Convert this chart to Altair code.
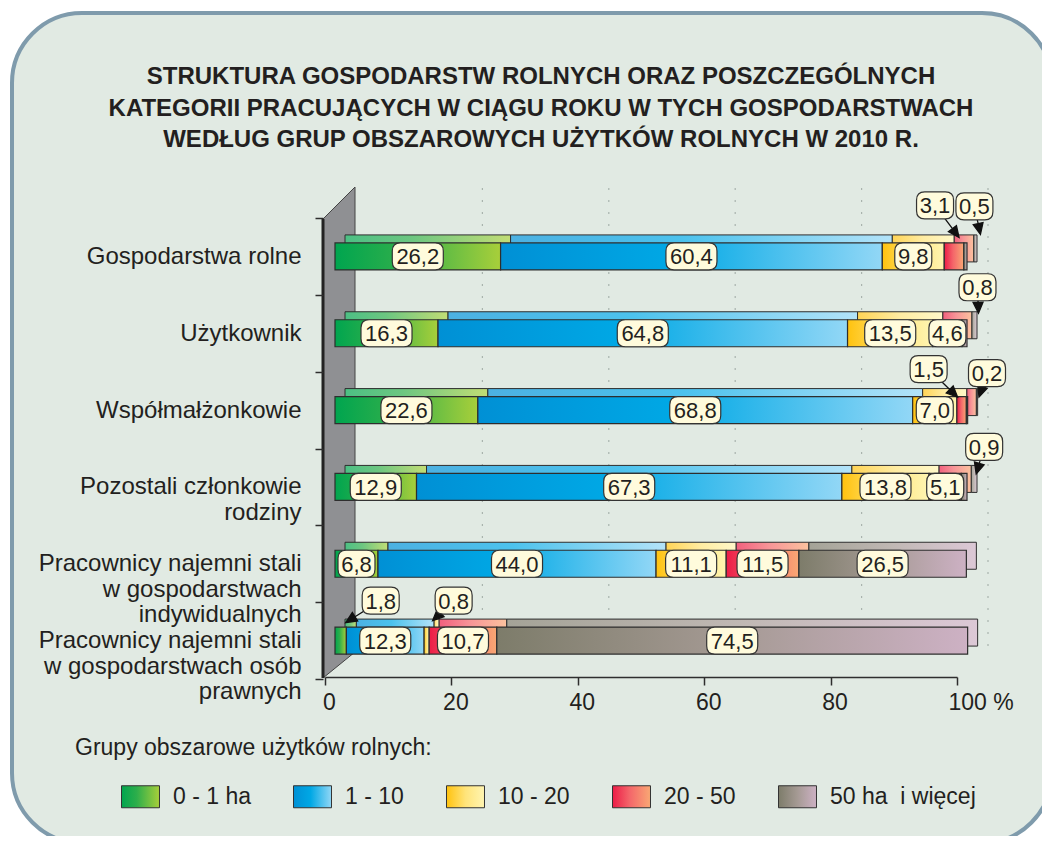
import math
import altair as alt
import pandas as pd

# ---------------- data ----------------
categories = [
    "Gospodarstwa rolne",
    "Użytkownik",
    "Współmałżonkowie",
    "Pozostali członkowie|rodziny",
    "Pracownicy najemni stali|w gospodarstwach|indywidualnych",
    "Pracownicy najemni stali|w gospodarstwach osób|prawnych",
]
groups = ["0 - 1 ha", "1 - 10", "10 - 20", "20 - 50", "50 ha\u00a0 i więcej"]
share_0_1 = [26.2, 16.3, 22.6, 12.9, 6.8, 1.8]
share_1_10 = [60.4, 64.8, 68.8, 67.3, 44.0, 12.3]
share_10_20 = [9.8, 13.5, 7.0, 13.8, 11.1, 0.8]
share_20_50 = [3.1, 4.6, 1.5, 5.1, 11.5, 10.7]
share_50 = [0.5, 0.8, 0.2, 0.9, 26.5, 74.5]
x_ticks = [0, 20, 40, 60, 80, 100]
grid_ticks = [20, 40, 60, 80, 100]

title_lines = [
    "STRUKTURA GOSPODARSTW ROLNYCH ORAZ POSZCZEGÓLNYCH",
    "KATEGORII PRACUJĄCYCH W CIĄGU ROKU W TYCH GOSPODARSTWACH",
    "WEDŁUG GRUP OBSZAROWYCH UŻYTKÓW ROLNYCH W 2010 R.",
]
legend_title = "Grupy obszarowe użytków rolnych:"

# ---------------- styles ----------------
FONT = "Liberation Sans, Arial, sans-serif"
TXT = "#231F20"
DARK = "#2E2E2E"
grad_stops = [
    [("#00A54F", 0), ("#2DAE4B", 0.4), ("#A8CF3A", 1)],
    [("#0090D5", 0), ("#00A8E5", 0.45), ("#92D7F6", 1)],
    [("#FFC20E", 0), ("#FFE47A", 0.5), ("#FFF5B2", 1)],
    [("#EC1C47", 0), ("#F4666A", 0.45), ("#F9A874", 1)],
    [("#7D7C6A", 0), ("#A59A94", 0.5), ("#CDB1C4", 1)],
]


def lighten(h, t=0.25):
    r, g, b = (int(h[i:i + 2], 16) for i in (1, 3, 5))
    return "#%02X%02X%02X" % tuple(round(c + (255 - c) * t) for c in (r, g, b))


def grad_expr(stops, t=0.0):
    s = ", ".join(f"{{offset: {o}, color: '{lighten(c, t)}'}}" for c, o in stops)
    return f"{{gradient: 'linear', x1: 0, y1: 0, x2: 1, y2: 0, stops: [{s}]}}"


# callout annotations (pixel offsets relative to the segment centre):
# (category index, group index) -> (box dx, box dy, arrow tip dx, arrow tip dy)
callouts = {
    (0, 3): (-19, -51, 5, -19),
    (0, 4): (9, -50, 15, -22),
    (1, 4): (13, -46, 14, -20),
    (2, 3): (-33, -41, -4, -13),
    (2, 4): (20, -37, 12, -13),
    (3, 4): (20, -40, 12, -13),
    (5, 0): (40, -40, 5, -18),
    (5, 2): (27, -40, 6, -20),
}


def arrow_path(bx, by, tx, ty, head=11, half=5):
    L = math.hypot(tx - bx, ty - by)
    ux, uy = (tx - bx) / L, (ty - by) / L
    ex, ey = tx - head * ux, ty - head * uy
    nx, ny = -uy, ux
    return (f"M {bx} {by} L {ex:.2f} {ey:.2f} "
            f"M {tx} {ty} L {ex + half * nx:.2f} {ey + half * ny:.2f} "
            f"L {ex - half * nx:.2f} {ey - half * ny:.2f} Z")


def box_path(hw, rc=0.6):
    a = hw - rc
    b = 1 - rc
    return (f"M {-a} -1 L {a} -1 Q {hw} -1 {hw} {-b} L {hw} {b} Q {hw} 1 {a} 1 "
            f"L {-a} 1 Q {-hw} 1 {-hw} {b} L {-hw} {-b} Q {-hw} -1 {-a} -1 Z")


BOX4 = box_path(1.89)
BOX3 = box_path(1.37)
LEG_RECT = "M -1.727 -1 L 1.727 -1 L 1.727 1 L -1.727 1 Z"

series = [share_0_1, share_1_10, share_10_20, share_20_50, share_50]
rows = []
for gi, (g, vals) in enumerate(zip(groups, series)):
    for ci, c in enumerate(categories):
        co = callouts.get((ci, gi))
        rows.append(dict(cat=c, grp=g, ord=gi, value=vals[ci],
                         bdx=co[0] if co else 0, bdy=co[1] if co else 0,
                         arrow=arrow_path(*co) if co else ""))
df = pd.DataFrame(rows)
dummy = pd.DataFrame({"d": [0]})
top_keys = [g + " (top)" for g in groups]

# ---------------- encodings ----------------
x_scale = alt.Scale(domain=[0, 100], nice=False, zero=True)
x_axis = alt.Axis(
    values=x_ticks, title=None, grid=False, domainColor=DARK, domainWidth=1.5,
    tickColor=DARK, tickSize=8, tickWidth=1.5, labelFontSize=23, labelFont=FONT,
    labelColor=TXT, labelPadding=6, labelFlush=False, labelOverlap=False, zindex=2,
    labelExpr="datum.value == 100 ? '100 %' : datum.label",
    labelAlign={"condition": {"test": "datum.value == 100", "value": "left"}, "value": "center"},
    labelOffset={"condition": {"test": "datum.value == 100", "value": -9}, "value": 4},
)
y_scale = alt.Scale(range=[33, 494], paddingInner=0, paddingOuter=0)
y_axis = alt.Axis(
    title=None, domain=False, ticks=True, tickBand="extent", tickSize=8,
    tickColor=DARK, tickWidth=1.5, offset=2, labelFontSize=24, labelFont=FONT,
    labelColor=TXT, labelPadding=14, labelLimit=0, labelLineHeight=25.5, zindex=2,
    labelExpr="split(datum.label, '|')",
)
Y = alt.Y("cat:N", sort=categories, scale=y_scale, axis=y_axis)

base = (
    alt.Chart(df)
    .transform_stack(stack="value", groupby=["cat"], as_=["x0", "x1"],
                     sort=[alt.SortField(field="ord", order="ascending")])
    .transform_calculate(mid="(datum.x0 + datum.x1) / 2",
                         lab="replace(format(datum.value, '.1f'), '.', ',')",
                         grp_top="datum.grp + ' (top)'")
    .transform_calculate(nch="length(datum.lab)")
)

panel = alt.Chart(dummy).mark_rect(
    cornerRadius=70, fill="#E1EAE3", stroke="#7F9BAC", strokeWidth=4
).encode(x=alt.value(-313), x2=alt.value(727), y=alt.value(-172), y2=alt.value(658))

title_text = alt.Chart(dummy).mark_text(
    text=title_lines, align="center", baseline="middle", fontSize=24,
    fontWeight="bold", font=FONT, color=TXT, lineHeight=31.5
).encode(x=alt.value(216), y=alt.value(-108))

wall = alt.Chart(dummy).mark_point(
    shape="M -2 34 L 30 2 L 30 467 L -2 493 Z", size=4, filled=True,
    fill="#8F9093", stroke="#444444", strokeWidth=1, opacity=1
).encode(x=alt.value(0), y=alt.value(0))
wall_edge = alt.Chart(dummy).mark_point(
    shape="M -2 34 L -2 493", size=4, filled=False, stroke="#222222",
    strokeWidth=3, opacity=1
).encode(x=alt.value(0), y=alt.value(0))

gridlines = alt.Chart(pd.DataFrame({"t": grid_ticks})).mark_rule(
    xOffset=31, strokeDash=[2, 10], color="#A9B3AD", strokeWidth=1.2
).encode(x=alt.X("t:Q", scale=x_scale, axis=x_axis), y=alt.value(3), y2=alt.value(466))

top_faces = base.mark_bar(
    size=27, xOffset=20, x2Offset=20, yOffset=-8, stroke=DARK, strokeWidth=1
).encode(
    x=alt.X("x0:Q", scale=x_scale, axis=x_axis), x2="x1:Q", y=Y,
    color=alt.Color("grp_top:N", scale=alt.Scale(
        domain=top_keys, range=[{"expr": grad_expr(s, 0.3)} for s in grad_stops]),
        legend=None),
)

front = base.mark_bar(
    size=27, xOffset=10, x2Offset=10, stroke=DARK, strokeWidth=1.2
).encode(
    x=alt.X("x0:Q", scale=x_scale, axis=x_axis), x2="x1:Q", y=Y,
    fill=alt.Fill("grp:N", scale=alt.Scale(
        domain=groups, range=[{"expr": grad_expr(s)} for s in grad_stops]),
        legend=alt.Legend(
            title=None, orient="none", legendX=-196, legendY=600, direction="horizontal",
            symbolType=LEG_RECT, symbolSize=484, symbolStrokeColor="#333333",
            symbolStrokeWidth=1, labelFontSize=23, labelFont=FONT, labelColor=TXT,
            labelOffset=21, columnPadding=40, padding=0, zindex=2,
        )),
)

arrows = base.transform_filter("datum.arrow != ''").mark_point(
    size=4, filled=True, fill="#111111", stroke="#111111", strokeWidth=1.3,
    opacity=1, xOffset=10
).encode(x=alt.X("mid:Q", scale=x_scale, axis=x_axis), y=Y,
         shape=alt.Shape("arrow:N", scale=None))


def boxes(n, path):
    return base.transform_filter(f"datum.nch == {n}").mark_point(
        shape=path, size=729, filled=True, fill="#FFFBDC", stroke="#333333",
        strokeWidth=1.2, opacity=1,
        xOffset={"expr": "10 + datum.bdx"}, yOffset={"expr": "datum.bdy"},
    ).encode(x=alt.X("mid:Q", scale=x_scale, axis=x_axis), y=Y)


labels = base.mark_text(
    fontSize=22, font=FONT, color=TXT, align="center", baseline="middle",
    dx={"expr": "10 + datum.bdx"}, dy={"expr": "datum.bdy + 1"},
).encode(x=alt.X("mid:Q", scale=x_scale, axis=x_axis), y=Y, text="lab:N")

leg_title = alt.Chart(dummy).mark_text(
    text=legend_title, align="left", baseline="middle", fontSize=23,
    font=FONT, color=TXT
).encode(x=alt.value(-250), y=alt.value(563))

chart = alt.layer(
    panel, title_text, wall, wall_edge, gridlines, top_faces, front, arrows,
    boxes(4, BOX4), boxes(3, BOX3), labels, leg_title,
).properties(
    width=632, height=492,
    padding={"left": 317, "top": 177, "right": 85, "bottom": 159},
    autosize="none",
    background="white",
).configure_view(stroke=None)

chart.save("out.html", embed_options={"renderer": "svg", "actions": False})
